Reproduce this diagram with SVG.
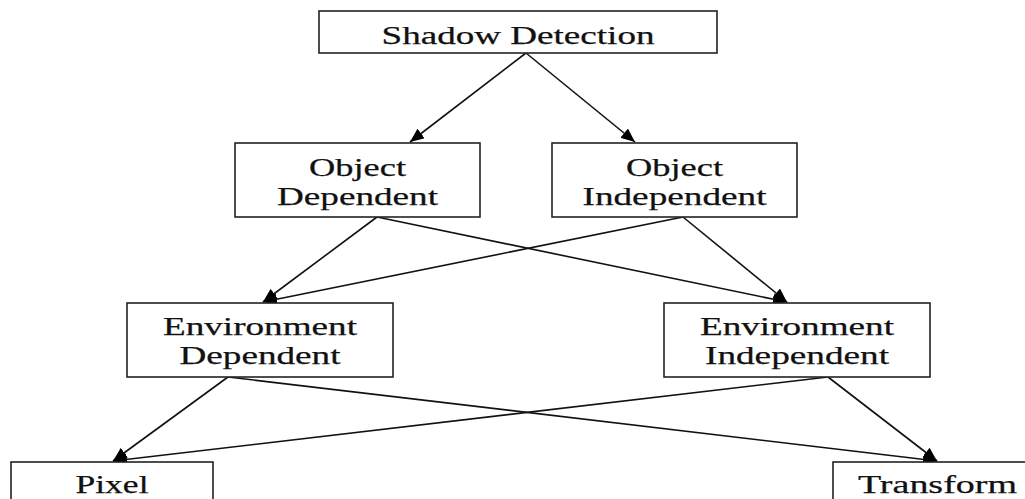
<svg xmlns="http://www.w3.org/2000/svg" width="1025" height="499" viewBox="0 0 1025 499">
<style>
.box{fill:#fff;stroke:#222;stroke-width:1.6}
.lbl{font-family:"Liberation Serif","Times New Roman",serif;font-size:26px;fill:#111;stroke:#111;stroke-width:0.25;text-anchor:middle}
.edge{stroke:#111;stroke-width:1.6;fill:none;marker-end:url(#ah)}
</style>
<defs>
<marker id="ah" markerUnits="userSpaceOnUse" markerWidth="15" markerHeight="12" refX="14" refY="6" orient="auto">
<path d="M0,0 L14,6 L0,12 z" fill="#000"/>
</marker>
</defs>
<rect width="1025" height="499" fill="#fff"/>
<g id="connectors">
<line class="edge" x1="526" y1="53" x2="410" y2="142"/>
<line class="edge" x1="526" y1="53" x2="635" y2="142"/>
<line class="edge" x1="377" y1="217" x2="263" y2="302"/>
<line class="edge" x1="377" y1="217" x2="787" y2="302"/>
<line class="edge" x1="683" y1="217" x2="263" y2="302"/>
<line class="edge" x1="683" y1="217" x2="787" y2="302"/>
<line class="edge" x1="228" y1="377" x2="113" y2="461"/>
<line class="edge" x1="228" y1="377" x2="937" y2="461"/>
<line class="edge" x1="828" y1="377" x2="113" y2="461"/>
<line class="edge" x1="828" y1="377" x2="937" y2="461"/>
</g>
<g id="shadow-detection">
<rect class="box" x="319" y="11" width="398" height="42"/>
<text class="lbl" x="518" y="44" textLength="273" lengthAdjust="spacingAndGlyphs">Shadow Detection</text>
</g>
<g id="object-dependent">
<rect class="box" x="235" y="143" width="245" height="74"/>
<text class="lbl" x="357.5" y="176" textLength="97" lengthAdjust="spacingAndGlyphs">Object</text>
<text class="lbl" x="357.5" y="205" textLength="161" lengthAdjust="spacingAndGlyphs">Dependent</text>
</g>
<g id="object-independent">
<rect class="box" x="552" y="143" width="245" height="74"/>
<text class="lbl" x="674.5" y="176" textLength="97" lengthAdjust="spacingAndGlyphs">Object</text>
<text class="lbl" x="674.5" y="205" textLength="184" lengthAdjust="spacingAndGlyphs">Independent</text>
</g>
<g id="environment-dependent">
<rect class="box" x="127" y="303" width="266" height="74"/>
<text class="lbl" x="260" y="335" textLength="194" lengthAdjust="spacingAndGlyphs">Environment</text>
<text class="lbl" x="260" y="364" textLength="161" lengthAdjust="spacingAndGlyphs">Dependent</text>
</g>
<g id="environment-independent">
<rect class="box" x="664" y="303" width="266" height="74"/>
<text class="lbl" x="797" y="335" textLength="194" lengthAdjust="spacingAndGlyphs">Environment</text>
<text class="lbl" x="797" y="364" textLength="184" lengthAdjust="spacingAndGlyphs">Independent</text>
</g>
<g id="pixel">
<rect class="box" x="11" y="462" width="202" height="60"/>
<text class="lbl" x="112" y="493" textLength="73" lengthAdjust="spacingAndGlyphs">Pixel</text>
</g>
<g id="transform">
<rect class="box" x="833" y="462" width="208" height="60"/>
<text class="lbl" x="937.5" y="493" textLength="159" lengthAdjust="spacingAndGlyphs">Transform</text>
</g>
</svg>
